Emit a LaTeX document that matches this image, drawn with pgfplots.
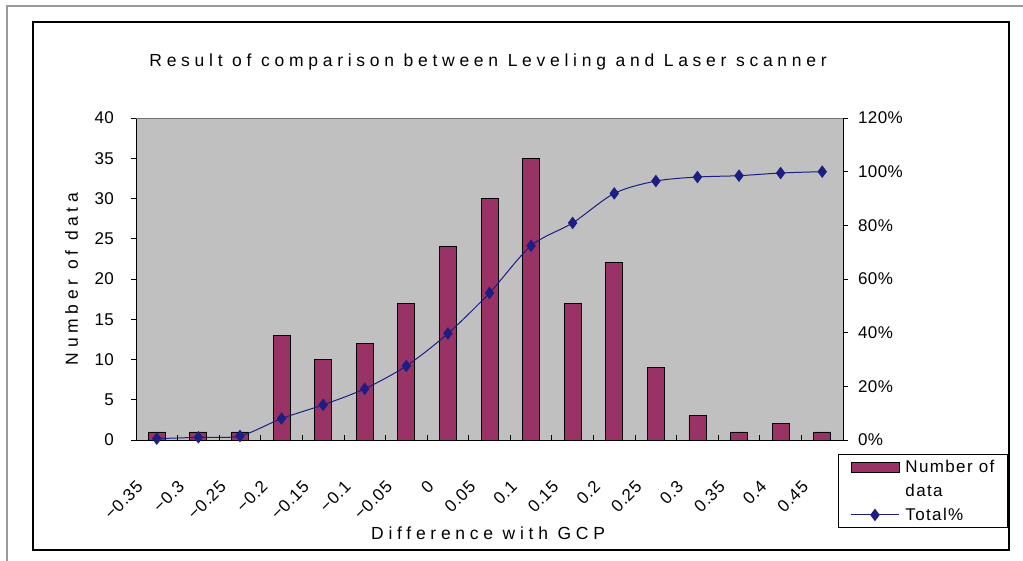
\documentclass[border=0pt]{standalone}
\usepackage{fontspec}
\setmainfont{Liberation Sans}
\newfontfamily\lblfontfam{Liberation Sans}[LetterSpace=27]
\newfontfamily\tckfontfam{Liberation Sans}[LetterSpace=2]
\newfontfamily\xtckfontfam{Liberation Sans}[LetterSpace=4]
\newfontfamily\legfontfam{Liberation Sans}[LetterSpace=8]
\newcommand\lblfont{\lblfontfam\fontsize{17.5bp}{20bp}\selectfont}
\newcommand\tckfont{\tckfontfam\fontsize{17bp}{20bp}\selectfont}
\newcommand\xtckfont{\xtckfontfam\fontsize{17bp}{20bp}\selectfont}
\newcommand\legfont{\legfontfam\fontsize{17bp}{20bp}\selectfont}
\usepackage{pgfplots}
\pgfplotsset{compat=1.18}
\definecolor{plotgray}{RGB}{192,192,192}
\definecolor{barfill}{RGB}{153,51,102}
\definecolor{linecol}{RGB}{30,30,130}
\pgfplotsset{
  totlegend/.style={legend image code/.code={\draw[#1, mark repeat=2, mark phase=2] plot coordinates {(0bp,0bp) (24bp,0bp) (48bp,0bp)};}},
  barlegend/.style={legend image code/.code={\draw[black, line width=0.8bp, fill=barfill] (0bp,-5bp) rectangle (48bp,5bp);}},
}
\begin{document}
\begin{tikzpicture}
\useasboundingbox (0bp,0bp) rectangle (1023bp,561bp);
\draw[black!40, line width=1.6bp] (7bp,0bp) -- (7bp,555bp) -- (1023bp,555bp);
\draw[black, line width=1.4bp] (33bp,11bp) rectangle (1009bp,539bp);

\begin{axis}[
  at={(136bp,121bp)}, anchor=south west,
  scale only axis, width=707bp, height=322bp,
  xmin=-0.5, xmax=16.5, ymin=0, ymax=40,
  axis background/.style={fill=plotgray},
  axis x line*=bottom, axis y line*=left,
  axis line style={-, black, line width=0.9bp},
  tick align=outside,
  major tick length=5bp, minor tick length=-5bp,
  tick style={black, line width=0.8bp},
  xtick={0,...,16},
  xticklabels={−0.35,−0.3,−0.25,−0.2,−0.15,−0.1,−0.05,0,0.05,0.1,0.15,0.2,0.25,0.3,0.35,0.4,0.45},
  major x tick style={draw=none},
  minor xtick={-0.5,0.5,...,16.5},
  xticklabel style={xshift=-17bp, yshift=-39bp, rotate=45, anchor=east, inner sep=0pt, font=\xtckfont},
  ytick={0,5,...,40},
  yticklabel style={anchor=east, inner sep=0pt, xshift=-17bp, font=\tckfont},
  /pgf/number format/assume math mode=true,
  title={Result of comparison between Leveling and Laser scanner},
  title style={at={(axis description cs:0.498,1.155)}, anchor=center, yshift=0pt, font=\lblfont},
  xlabel={Difference with GCP},
  every axis x label/.style={at={(axis description cs:0.498,-0.289)}, anchor=center, font=\lblfont},
  ylabel={Number of data},
  every axis y label/.style={at={(axis description cs:-0.0912,0.5)}, rotate=90, anchor=center, font=\lblfont},
  after end axis/.code={\draw[black!55, line width=0.9bp] (rel axis cs:0,1) -- (rel axis cs:1,1);},
]
\addplot[ybar, bar width=17bp, fill=barfill, draw=black, line width=0.8bp] coordinates {
(0,1) (1,1) (2,1) (3,13) (4,10) (5,12) (6,17) (7,24) (8,30) (9,35)
(10,17) (11,22) (12,9) (13,3) (14,1) (15,2) (16,1)};
\end{axis}

\begin{axis}[
  at={(136bp,121bp)}, anchor=south west,
  scale only axis, width=707bp, height=322bp,
  xmin=-0.5, xmax=16.5, ymin=0, ymax=120,
  axis x line=none, axis y line*=right,
  axis line style={-, black, line width=0.9bp},
  tick align=outside, major tick length=5bp,
  tick style={black, line width=0.8bp},
  ytick={0,20,...,120},
  yticklabel={\pgfmathprintnumber{\tick}\%},
  yticklabel style={anchor=west, inner sep=0pt, xshift=10bp, font=\tckfont},
  /pgf/number format/assume math mode=true,
  legend style={at={(axis description cs:0.993,-0.0435)}, anchor=north west,
    draw=black, line width=0.8bp, font=\legfont,
    inner xsep=12bp, inner ysep=5bp, row sep=8bp, column sep=5bp,
    nodes={inner sep=1bp}},
  legend cell align=left,
]
\addlegendimage{barlegend}
\addlegendentry{Number of}
\addlegendimage{empty legend}
\addlegendentry{data}
\addplot[linecol, line width=1bp, smooth, mark=diamond*, mark size=5.5bp,
  mark options={solid, fill=linecol}, totlegend]
  coordinates {
(0,0.5) (1,1.0) (2,1.5) (3,8.0) (4,13.1) (5,19.1) (6,27.6) (7,39.7) (8,54.8) (9,72.4)
(10,80.9) (11,91.9) (12,96.5) (13,98.0) (14,98.5) (15,99.5) (16,100)};
\addlegendentry{Total\%}
\end{axis}
\end{tikzpicture}
\end{document}
